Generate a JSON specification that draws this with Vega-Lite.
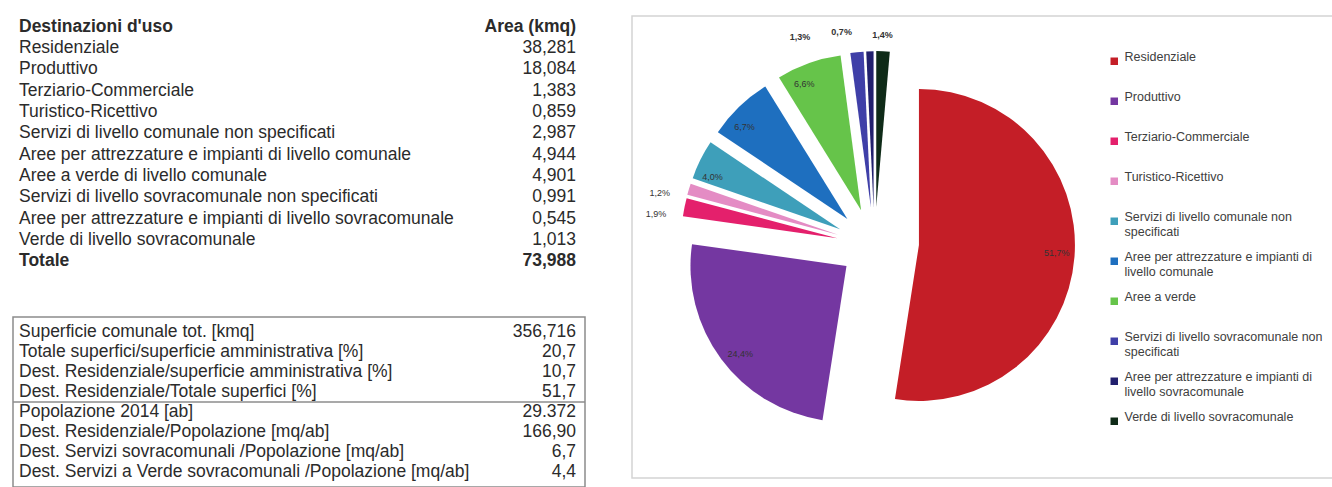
{
  "$schema": "https://vega.github.io/schema/vega-lite/v6.json",
  "background": "white",
  "padding": {"left": 11, "top": 15, "right": 0, "bottom": 0},
  "spacing": 44,
  "config": {
    "font": "Liberation Sans",
    "locale": {"number": {"decimal": ",", "thousands": ".", "grouping": [3], "currency": ["", " €"]}},
    "axis": {"disable": true}
  },
  "datasets": {
    "tabella": [
      {"voce": "Destinazioni d'uso", "valore": "Area (kmq)"},
      {"voce": "Residenziale", "valore": "38,281"},
      {"voce": "Produttivo", "valore": "18,084"},
      {"voce": "Terziario-Commerciale", "valore": "1,383"},
      {"voce": "Turistico-Ricettivo", "valore": "0,859"},
      {"voce": "Servizi di livello comunale non specificati", "valore": "2,987"},
      {"voce": "Aree per attrezzature e impianti di livello comunale", "valore": "4,944"},
      {"voce": "Aree a verde di livello comunale", "valore": "4,901"},
      {"voce": "Servizi di livello sovracomunale non specificati", "valore": "0,991"},
      {"voce": "Aree per attrezzature e impianti di livello sovracomunale", "valore": "0,545"},
      {"voce": "Verde di livello sovracomunale", "valore": "1,013"},
      {"voce": "Totale", "valore": "73,988"}
    ],
    "indicatori": [
      {"voce": "Superficie comunale tot. [kmq]", "valore": "356,716"},
      {"voce": "Totale superfici/superficie amministrativa [%]", "valore": "20,7"},
      {"voce": "Dest. Residenziale/superficie amministrativa  [%]", "valore": "10,7"},
      {"voce": "Dest. Residenziale/Totale superfici  [%]", "valore": "51,7"},
      {"voce": "Popolazione 2014 [ab]", "valore": "29.372"},
      {"voce": "Dest. Residenziale/Popolazione [mq/ab]", "valore": "166,90"},
      {"voce": "Dest. Servizi sovracomunali /Popolazione [mq/ab]", "valore": "6,7"},
      {"voce": "Dest. Servizi a Verde sovracomunali /Popolazione [mq/ab]", "valore": "4,4"}
    ],
    "usi": [
      {"uso": "Residenziale", "area": 38.281},
      {"uso": "Produttivo", "area": 18.084},
      {"uso": "Terziario-Commerciale", "area": 1.383},
      {"uso": "Turistico-Ricettivo", "area": 0.859},
      {"uso": "Servizi di livello comunale non specificati", "area": 2.987},
      {"uso": "Aree per attrezzature e impianti di livello comunale", "area": 4.944},
      {"uso": "Aree a verde", "area": 4.901},
      {"uso": "Servizi di livello sovracomunale non specificati", "area": 0.991},
      {"uso": "Aree per attrezzature e impianti di livello sovracomunale", "area": 0.545},
      {"uso": "Verde di livello sovracomunale", "area": 1.013}
    ]
  },
  "hconcat": [
    {
      "spacing": 44,
      "vconcat": [
        {
          "width": 572,
          "height": 256,
          "view": {"stroke": null},
          "data": {"name": "tabella"},
          "layer": [
            {
              "mark": {"type": "text", "align": "left", "dx": 6, "fontSize": 17.5, "fill": "#2b2b2b",
                       "fontWeight": {"expr": "datum.valore === 'Area (kmq)' || datum.voce === 'Totale' ? 'bold' : 'normal'"}},
              "encoding": {
                "y": {"field": "voce", "type": "nominal", "sort": null, "axis": null, "scale": {"type": "band", "paddingInner": 0, "paddingOuter": 0}},
                "x": {"value": 0},
                "text": {"field": "voce"}
              }
            },
            {
              "mark": {"type": "text", "align": "right", "dx": -9, "fontSize": 17.5, "fill": "#2b2b2b",
                       "fontWeight": {"expr": "datum.valore === 'Area (kmq)' || datum.voce === 'Totale' ? 'bold' : 'normal'"}},
              "encoding": {
                "y": {"field": "voce", "type": "nominal", "sort": null, "axis": null},
                "x": {"value": "width"},
                "text": {"field": "valore"}
              }
            }
          ]
        },
        {
          "width": 572,
          "height": 170,
          "view": {"stroke": "#8c8c8c", "strokeWidth": 1.5},
          "data": {"name": "indicatori"},
          "layer": [
            {
              "mark": {"type": "text", "align": "left", "dx": 6, "fontSize": 17.5, "fill": "#2b2b2b"},
              "encoding": {
                "y": {"field": "voce", "type": "nominal", "sort": null, "axis": null, "scale": {"type": "band", "paddingInner": 0, "paddingOuter": 0.25}},
                "x": {"value": 0},
                "text": {"field": "voce"}
              }
            },
            {
              "mark": {"type": "text", "align": "right", "dx": -9, "fontSize": 17.5, "fill": "#2b2b2b"},
              "encoding": {
                "y": {"field": "voce", "type": "nominal", "sort": null, "axis": null},
                "x": {"value": "width"},
                "text": {"field": "valore"}
              }
            },
            {
              "transform": [{"filter": "datum.voce === 'Popolazione 2014 [ab]'"}],
              "mark": {"type": "rule", "stroke": "#8c8c8c", "strokeWidth": 1.5},
              "encoding": {
                "y": {"field": "voce", "type": "nominal", "sort": null, "axis": null, "bandPosition": 0}
              }
            }
          ]
        }
      ]
    },
    {
      "width": 703,
      "height": 462,
      "view": {"stroke": "#d4d4d4", "strokeWidth": 1.5},
      "data": {"name": "usi"},
      "transform": [
        {"stack": "area", "groupby": [], "as": ["v0", "v1"]},
        {"joinaggregate": [{"op": "sum", "field": "area", "as": "totale"}]},
        {"calculate": "datum.area / datum.totale", "as": "pct"},
        {"calculate": "2 * PI * (datum.v0 + datum.area / 2) / datum.totale", "as": "ang"},
        {"calculate": "sin(datum.ang)", "as": "ex"},
        {"calculate": "cos(datum.ang)", "as": "ey"}
      ],
      "encoding": {
        "x": {"field": "ex", "type": "quantitative", "axis": null, "scale": {"domain": [-1, 1], "range": [205, 287], "nice": false, "zero": false}},
        "y": {"field": "ey", "type": "quantitative", "axis": null, "scale": {"domain": [-1, 1], "range": [263, 191], "nice": false, "zero": false}}
      },
      "layer": [
        {
          "mark": {"type": "arc", "outerRadius": 156},
          "encoding": {
            "theta": {"field": "v0", "type": "quantitative", "scale": {"zero": true, "nice": false}},
            "theta2": {"field": "v1"},
            "color": {
              "field": "uso", "type": "nominal", "sort": null,
              "scale": {"range": ["#C41E27", "#7437A1", "#E4206C", "#E48CC4", "#3E9FBA", "#1E6FBF", "#66C44A", "#3F3FA8", "#22206E", "#0F2B18"]},
              "legend": {
                "orient": "none", "legendX": 1095, "legendY": 39, "title": null, "padding": 0,
                "symbolType": "square", "symbolSize": 56, "symbolStrokeWidth": 0,
                "labelFontSize": 12.5, "labelColor": "#404040", "labelLimit": 400, "labelOffset": 4,
                "rowPadding": 12, "gridAlign": "all", "labelBaseline": "alphabetic",
                "labelExpr": "length(datum.label) > 36 ? split(replace(datum.label, regexp('^(.{1,36}) (.+)$'), '$1|$2'), '|') : datum.label"
              }
            }
          }
        },
        {
          "transform": [{"filter": "datum.pct >= 0.02"}],
          "mark": {"type": "text", "radius": 138, "fontSize": 9, "fill": "#333333"},
          "encoding": {
            "theta": {"field": "ang", "type": "quantitative", "scale": null},
            "text": {"field": "pct", "type": "quantitative", "format": ".1%"}
          }
        },
        {
          "transform": [{"filter": "datum.pct < 0.02 && datum.ang < 6"}],
          "mark": {"type": "text", "radius": 183, "fontSize": 9, "fill": "#333333"},
          "encoding": {
            "theta": {"field": "ang", "type": "quantitative", "scale": null},
            "text": {"field": "pct", "type": "quantitative", "format": ".1%"}
          }
        },
        {
          "transform": [{"filter": "datum.pct < 0.02 && datum.ang >= 6"}],
          "mark": {"type": "text", "fontSize": 9, "fontWeight": "bold", "fill": "#333333"},
          "encoding": {
            "theta": {"field": "ang", "type": "quantitative", "scale": {"zero": false, "nice": false, "range": [5.89, 6.32]}},
            "radius": {"field": "ang", "type": "quantitative", "scale": {"type": "linear", "zero": false, "nice": false, "range": [185, 172]}},
            "text": {"field": "pct", "type": "quantitative", "format": ".1%"}
          }
        }
      ],
      "resolve": {"scale": {"theta": "independent", "radius": "independent"}}
    }
  ]
}
